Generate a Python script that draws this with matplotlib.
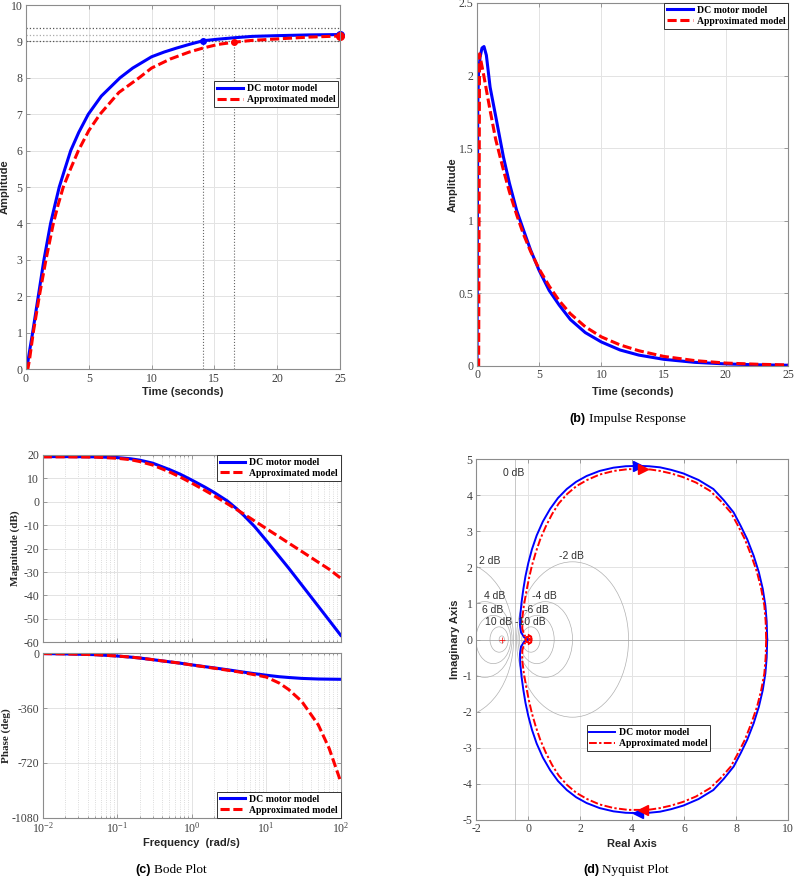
import matplotlib
matplotlib.use('Agg')
import matplotlib.pyplot as plt
from matplotlib.patches import Circle

plt.rcParams['font.family'] = ['Liberation Serif', 'DejaVu Serif']
plt.rcParams['mathtext.fontset'] = 'custom'
plt.rcParams['mathtext.rm'] = 'Liberation Serif'
plt.rcParams['mathtext.it'] = 'Liberation Serif:italic'
plt.rcParams['mathtext.bf'] = 'Liberation Serif:bold'
plt.rcParams['axes.unicode_minus'] = False

BLUE = '#0000ff'
RED = '#ff0000'
SANS = 'Liberation Sans'
LABELS = ['DC motor model', 'Approximated model']

# ---- (a) step response ----
t_step_dc = [0, 0.1, 0.25, 0.53, 0.98, 1.43, 1.96, 2.3, 2.65, 3.1, 3.56, 4.2, 4.96, 6.0, 7.48,
             8.5, 10, 11, 12, 13, 14.1, 15.2, 16.5, 18, 20, 22.5, 25]
y_step_dc = [0, 0.08, 0.42, 1.0, 2.0, 3.0, 4.0, 4.5, 5.0, 5.5, 6.0, 6.5, 7.0, 7.5, 8.0,
             8.27, 8.58, 8.71, 8.82, 8.92, 9.02, 9.06, 9.1, 9.14, 9.16, 9.18, 9.19]
t_step_ap = [0, 0.15, 0.3, 0.58, 1.06, 1.59, 2.18, 2.55, 2.97, 3.55, 4.17, 5.0, 5.89, 7.4,
             9.0, 10, 11.5, 13, 14.1, 15.3, 16.6, 18, 20, 22.5, 25]
y_step_ap = [0, 0.0, 0.3, 1.0, 2.0, 3.0, 4.0, 4.5, 5.0, 5.5, 6.0, 6.55, 7.0, 7.6,
             8.0, 8.27, 8.52, 8.71, 8.82, 8.92, 8.98, 9.03, 9.07, 9.12, 9.15]
settle_t = [14.1, 16.6]
settle_y = [9.02, 8.98]
final_y = [9.19, 9.15]
band_y = [9.37, 9.18, 9.0]

# ---- (b) impulse response ----
t_imp_dc = [0, 0.03, 0.06, 0.12, 0.25, 0.4, 0.56, 0.75, 1.05, 1.5, 2.12, 2.6, 3.19, 3.72,
            4.3, 4.98, 5.8, 6.6, 7.5, 8.7, 10, 11.5, 13, 15, 17.5, 20, 22.5, 25]
y_imp_dc = [0, 1.0, 1.8, 2.02, 2.13, 2.19, 2.2, 2.14, 1.92, 1.72, 1.44, 1.26, 1.07, 0.94,
            0.8, 0.66, 0.52, 0.42, 0.32, 0.23, 0.165, 0.11, 0.075, 0.046, 0.025, 0.014, 0.008, 0.005]
t_imp_ap = [0, 0.13, 0.2, 0.5, 1.05, 1.5, 2.12, 2.6, 3.19, 3.72, 4.3, 4.98, 5.8, 6.6, 7.5,
            8.7, 10, 11.5, 13, 15, 17.5, 20, 22.5, 25]
y_imp_ap = [0, 0, 2.15, 2.02, 1.76, 1.56, 1.35, 1.2, 1.04, 0.91, 0.79, 0.67, 0.55, 0.45, 0.36,
            0.27, 0.2, 0.145, 0.105, 0.066, 0.037, 0.02, 0.012, 0.007]

# ---- (c) bode ----
w = [0.01, 0.02, 0.05, 0.1, 0.15, 0.2, 0.3, 0.5, 0.7, 1, 1.5, 2, 3, 4, 5, 7, 10,
     15, 20, 30, 50, 70, 100]
mag_dc = [19.3, 19.3, 19.2, 18.9, 18.4, 17.8, 16.5, 13.8, 11.8, 9.3, 6.3, 4.0, 0.4, -2.9,
          -5.8, -10.6, -16.5, -23.4, -28.3, -35.5, -44.6, -50.6, -57.0]
mag_ap = [19.2, 19.2, 19.1, 18.6, 18.0, 17.2, 15.7, 12.8, 10.6, 8.0, 4.9, 2.6, -0.8, -3.3,
          -5.2, -8.2, -11.4, -15.0, -17.6, -21.2, -25.8, -28.8, -32.6]
ph_dc = [-2, -4, -9, -18, -25, -31, -42, -56, -65, -76, -88, -96, -108, -117, -124, -134,
         -144, -154, -159, -165, -169, -170, -171]
ph_ap = [-2, -4, -9, -18, -25, -31, -42, -56, -65, -77, -89, -98, -111, -120, -128, -141,
         -156, -196, -238, -316, -470, -625, -843]

# ---- (d) nyquist (negative-imag half, w >= 0) ----
re_dc = [9.19, 9.17, 9.12, 9.02, 8.87, 8.67, 8.42, 8.17, 7.9, 7.52, 7.12, 6.55, 5.97, 5.5,
         5.07, 4.65, 4.24, 3.75, 3.28, 2.75, 2.25, 1.85, 1.49, 1.15, 0.85, 0.57, 0.33, 0.15,
         0.01, -0.1, -0.18, -0.25, -0.3, -0.31, -0.27, -0.15, 0]
im_dc = [0, -0.5, -0.94, -1.4, -1.86, -2.32, -2.78, -3.15, -3.52, -3.86, -4.17, -4.42, -4.6,
         -4.7, -4.77, -4.8, -4.81, -4.8, -4.76, -4.67, -4.53, -4.37, -4.17, -3.92, -3.62,
         -3.27, -2.88, -2.5, -2.12, -1.75, -1.4, -1.03, -0.66, -0.4, -0.2, -0.06, 0]
re_ap = [9.15, 9.13, 9.08, 8.96, 8.8, 8.58, 8.33, 8.07, 7.79, 7.4, 6.99, 6.45, 5.95, 5.5,
         5.07, 4.7, 4.37, 3.85, 3.3, 2.75, 2.27, 1.86, 1.5, 1.18, 0.92, 0.68, 0.47, 0.3,
         0.15, 0.03, -0.07, -0.16, -0.22, -0.22, -0.14, 0.0, 0.12, 0.13, 0.06, -0.05, -0.1,
         -0.05, 0.04, 0.07, 0.02, 0]
im_ap = [0, -0.5, -0.94, -1.4, -1.86, -2.32, -2.78, -3.15, -3.52, -3.84, -4.12, -4.35, -4.5,
         -4.6, -4.67, -4.71, -4.72, -4.72, -4.67, -4.57, -4.42, -4.25, -4.03, -3.77, -3.47,
         -3.13, -2.78, -2.42, -2.05, -1.68, -1.31, -0.94, -0.6, -0.3, -0.1, -0.13, -0.08,
         0.03, 0.1, 0.1, 0.0, -0.07, -0.07, 0.0, 0.04, 0]
arrow_dc = (4.22, 4.82)
arrow_ap = (4.43, 4.72)
m_db = [2, -2, 4, -4, 6, -6, 10, -10, 20, -20]
m_text = ['0 dB', '2 dB', '-2 dB', '4 dB', '-4 dB', '6 dB', '-6 dB', '10 dB', '-10 dB']
m_text_x = [-0.54, -1.48, 1.67, -1.3, 0.64, -1.37, 0.31, -1.14, 0.08]
m_text_y = [4.6, 2.18, 2.31, 1.21, 1.21, 0.82, 0.82, 0.49, 0.49]


def style(ax):
    ax.grid(True, color='#e3e3e3', lw=0.7)
    ax.set_axisbelow(True)
    for s in ax.spines.values():
        s.set_color('#8c8c8c')
        s.set_linewidth(0.8)
    ax.tick_params(direction='in', top=True, right=True, length=3, width=0.6,
                   color='#8c8c8c', labelsize=8.5, labelcolor='#404040', pad=2.5)
    ax.tick_params(which='minor', direction='in', top=True, right=True, length=1.5,
                   color='#8c8c8c')


def legend(ax, handles, **kw):
    leg = ax.legend(handles, LABELS,
                    prop={'family': 'Liberation Serif', 'weight': 'bold', 'size': 7},
                    frameon=True, fancybox=False, framealpha=1, handlelength=2.6,
                    handletextpad=0.4, borderpad=0.3, labelspacing=0.2, **kw)
    leg.get_frame().set_edgecolor('#333333')
    leg.get_frame().set_linewidth(0.7)
    return leg


def sans_label(ax, xl, yl, xpos, ypos, yfont=SANS):
    ax.set_xlabel(xl, family=SANS, weight='bold', fontsize=8, color='#262626')
    ax.set_ylabel(yl, family=yfont, weight='bold', fontsize=8, color='#262626')
    ax.xaxis.set_label_coords(0.5, xpos)
    ax.yaxis.set_label_coords(ypos, 0.5)


fig = plt.figure(figsize=(7.94, 8.77), dpi=100)

# (a)
ax = fig.add_axes([0.0327, 0.5792, 0.3955, 0.415])
style(ax)
for yb, c in zip(band_y, ['#555555', '#aaaaaa', '#555555']):
    ax.axhline(yb, color=c, ls=':', lw=0.9)
for ts, ys in zip(settle_t, settle_y):
    ax.plot([ts, ts], [0, ys], color='#666666', ls=':', lw=0.8)
l1, = ax.plot(t_step_dc, y_step_dc, color=BLUE, lw=2.2)
l2, = ax.plot(t_step_ap, y_step_ap, color=RED, lw=2.2, dashes=(3, 1.2))
ax.plot(settle_t[0], settle_y[0], 'o', color=BLUE, ms=4)
ax.plot(settle_t[1], settle_y[1], 'o', color=RED, ms=4)
ax.plot(25, final_y[0], 'o', color=BLUE, ms=5.5, clip_on=False)
ax.plot(25, final_y[1], 'o', color=RED, ms=5.5, clip_on=False)
ax.set_xlim(0, 25)
ax.set_ylim(0, 10)
ax.set_xticks(range(0, 26, 5))
ax.set_yticks(range(0, 11))
legend(ax, [l1, l2], loc='upper right', bbox_to_anchor=(0.994, 0.791), borderaxespad=0)
sans_label(ax, 'Time (seconds)', 'Amplitude', -0.05, -0.053)

# (b)
ax = fig.add_axes([0.6008, 0.5827, 0.3917, 0.4139])
style(ax)
l1, = ax.plot(t_imp_dc, y_imp_dc, color=BLUE, lw=2.2)
l2, = ax.plot(t_imp_ap, y_imp_ap, color=RED, lw=2.2, dashes=(3, 1.2))
ax.set_xlim(0, 25)
ax.set_ylim(0, 2.5)
ax.set_xticks(range(0, 26, 5))
ax.set_yticks([0, 0.5, 1, 1.5, 2, 2.5])
ax.set_yticklabels(['0', '0.5', '1', '1.5', '2', '2.5'])
legend(ax, [l1, l2], loc='upper right', borderaxespad=0)
sans_label(ax, 'Time (seconds)', 'Amplitude', -0.057, -0.062)
fig.text(586 / 794, 1 - 419 / 877, '(b)', family=SANS, weight='bold', fontsize=9,
         ha='right', va='center')
fig.text(589 / 794, 1 - 419 / 877, 'Impulse Response', fontsize=9.5, ha='left', va='center')

# (c) magnitude
ax = fig.add_axes([0.0538, 0.2676, 0.3753, 0.2136])
style(ax)
l1, = ax.plot(w, mag_dc, color=BLUE, lw=2.2)
l2, = ax.plot(w, mag_ap, color=RED, lw=2.2, dashes=(3, 1.2))
ax.set_xscale('log')
ax.set_xlim(0.01, 100)
ax.set_ylim(-60, 20)
ax.set_yticks(range(-60, 21, 10))
ax.grid(True, which='minor', axis='x', color='#d0d0d0', ls=':', lw=0.6)
ax.tick_params(labelbottom=False)
legend(ax, [l1, l2], loc='upper right', borderaxespad=0)
ax.set_ylabel('Magnitude (dB)', weight='bold', fontsize=8, color='#262626')
ax.yaxis.set_label_coords(-0.076, 0.5)

# (c) phase
ax = fig.add_axes([0.0538, 0.0676, 0.3753, 0.1875])
style(ax)
l1, = ax.plot(w, ph_dc, color=BLUE, lw=2.2)
l2, = ax.plot(w, ph_ap, color=RED, lw=2.2, dashes=(3, 1.2))
ax.set_xscale('log')
ax.set_xlim(0.01, 100)
ax.set_ylim(-1080, 0)
ax.set_yticks([-1080, -720, -360, 0])
ax.grid(True, which='minor', axis='x', color='#d0d0d0', ls=':', lw=0.6)
legend(ax, [l1, l2], loc='lower right', borderaxespad=0)
ax.set_ylabel('Phase (deg)', weight='bold', fontsize=8, color='#262626')
ax.yaxis.set_label_coords(-0.108, 0.5)
ax.set_xlabel('Frequency  (rad/s)', family=SANS, weight='bold', fontsize=8, color='#262626')
ax.xaxis.set_label_coords(0.5, -0.125)
fig.text(151 / 794, 1 - 870 / 877, '(c)', family=SANS, weight='bold', fontsize=9,
         ha='right', va='center')
fig.text(154 / 794, 1 - 870 / 877, 'Bode Plot', fontsize=9.5, ha='left', va='center')

# (d) nyquist
ax = fig.add_axes([0.5995, 0.065, 0.3933, 0.4116])
style(ax)
ax.axvline(-0.5, color='#b0b0b0', lw=0.5)
ax.axhline(0, color='#a0a0a0', lw=0.5)
for db in m_db:
    m2 = 10 ** (db / 10)
    m = 10 ** (db / 20)
    ax.add_patch(Circle((-m2 / (m2 - 1), 0), abs(m / (m2 - 1)), fill=False,
                        ec='#b0b0b0', lw=0.5))
for s, x, y in zip(m_text, m_text_x, m_text_y):
    ax.text(x, y, s, family=SANS, fontsize=7.5, color='#303030', ha='center', va='center')
ax.plot(-1, 0, '+', color=RED, ms=4, mew=0.5)
l1, = ax.plot(re_dc, im_dc, color=BLUE, lw=1.4)
ax.plot(re_dc, [-v for v in im_dc], color=BLUE, lw=1.4)
l2, = ax.plot(re_ap, im_ap, color=RED, lw=1.4, dashes=(4, 1.2, 1.2, 1.2))
ax.plot(re_ap, [-v for v in im_ap], color=RED, lw=1.4, dashes=(4, 1.2, 1.2, 1.2))
ax.plot(arrow_dc[0], arrow_dc[1], '>', color=BLUE, ms=7)
ax.plot(arrow_dc[0], -arrow_dc[1], '<', color=BLUE, ms=7)
ax.plot(arrow_ap[0], arrow_ap[1], '>', color=RED, ms=7)
ax.plot(arrow_ap[0], -arrow_ap[1], '<', color=RED, ms=7)
ax.set_xlim(-2, 10)
ax.set_ylim(-5, 5)
ax.set_xticks(range(-2, 11, 2))
ax.set_yticks(range(-5, 6))
leg = legend(ax, [l1, l2], loc='upper left', bbox_to_anchor=(0.354, 0.263), borderaxespad=0)
sans_label(ax, 'Real Axis', 'Imaginary Axis', -0.052, -0.051)
fig.text(599 / 794, 1 - 870 / 877, '(d)', family=SANS, weight='bold', fontsize=9,
         ha='right', va='center')
fig.text(602 / 794, 1 - 870 / 877, 'Nyquist Plot', fontsize=9.5, ha='left', va='center')

fig.savefig('out.png', dpi=100, facecolor='white')
